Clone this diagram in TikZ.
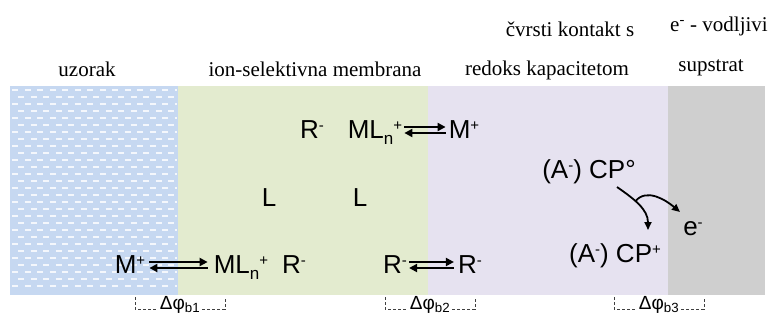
\documentclass[tikz,border=0pt]{standalone}
\usepackage{fontspec}
\setmainfont{Liberation Serif}
\setsansfont{Liberation Sans}
\usepackage{xcolor}
\usetikzlibrary{positioning,arrows.meta,calc}

\definecolor{sample}{RGB}{198,216,241}
\definecolor{membrane}{RGB}{227,235,207}
\definecolor{contact}{RGB}{230,226,240}
\definecolor{substrate}{RGB}{207,207,207}

\newcommand{\chup}[1]{\raisebox{8pt}{\fontsize{15}{15}\selectfont #1}}
\newcommand{\chdown}[1]{\raisebox{-6pt}{\fontsize{17}{17}\selectfont #1}}

\begin{document}
\begin{tikzpicture}[
  x=1pt, y=1pt,
  head/.style={anchor=base, inner sep=0pt, font=\fontsize{21}{24}\selectfont\rmfamily},
  species/.style={anchor=base, inner sep=0pt, font=\fontsize{26}{30}\selectfont\sffamily},
  eq/.style={-{Triangle[length=8pt,width=8pt]}, line width=2pt},
  flow/.style={-{Triangle[length=8pt,width=7pt]}, line width=1.8pt},
  potential/.style={anchor=base, inner sep=2pt, font=\fontsize{19}{22}\selectfont\sffamily},
  bracket/.style={densely dashed, line width=0.9pt, black!75}
]
  \useasboundingbox (0,0) rectangle (773,-321);

  \fill[sample]    (10,-86)  rectangle (178,-295);
  \fill[membrane]  (178,-86) rectangle (428,-295);
  \fill[contact]   (428,-86) rectangle (668,-295);
  \fill[substrate] (668,-86) rectangle (765,-295);
  \foreach \r in {0,...,28} {
    \pgfmathsetmacro\yy{-90-7*\r}
    \pgfmathsetmacro\xx{mod(\r,2)==0 ? 12 : 18}
    \draw[white!80!sample, line width=1.4pt, dash pattern=on 6pt off 6.5pt] (\xx,\yy) -- (177,\yy);
  }

  \node[head] (sam) at (87,-77)  {uzorak};
  \node[head] (mem) at (315,-77) {ion-selektivna membrana};
  \node[head] (cks) at (570,-37) {čvrsti kontakt s};
  \node[head] (rkk) at (547,-75) {redoks kapacitetom};
  \node[head] (evd) at (719,-32) {e\textsuperscript{-} - vodljivi};
  \node[head] (sup) at (711,-71) {supstrat};

  \node[species] (rt)  at (312,-138) {R\chup{-}};
  \node[species] (mlt) at (375,-138) {ML\chdown{n}\chup{+}};
  \node[species] (mt)  at (464,-138) {M\chup{+}};
  \node[species] (l1)  at (269,-206) {L};
  \node[species] (l2)  at (360,-206) {L};
  \node[species] (mb)  at (130,-273) {M\chup{+}};
  \node[species] (mlb) at (241,-273) {ML\chdown{n}\chup{+}};
  \node[species] (rb1) at (294,-273) {R\chup{-}};
  \node[species] (rb2) at (395,-273) {R\chup{-}};
  \node[species] (rb3) at (470,-273) {R\chup{-}};
  \node[species] (cpo) at (589,-178) {(A\chup{-}) CP°};
  \node[species] (cpp) at (615,-262) {(A\chup{-}) CP\chup{+}};
  \node[species] (el)  at (693,-235) {e\chup{-}};

  \draw[eq] ($(mlt.base east)+(2,11)$) -- ($(mt.base west)+(-3,11)$);
  \draw[eq] ($(mt.base west)+(-3,5)$) -- ($(mlt.base east)+(2,5)$);
  \draw[eq] ($(mb.base east)+(4,11)$) -- ($(mlb.base west)+(-6,11)$);
  \draw[eq] ($(mlb.base west)+(-6,5)$) -- ($(mb.base east)+(4,5)$);
  \draw[eq] ($(rb2.base east)+(2,11)$) -- ($(rb3.base west)+(-4,11)$);
  \draw[eq] ($(rb3.base west)+(-4,5)$) -- ($(rb2.base east)+(2,5)$);

  \draw[flow] ([shift={(28,-9)}]cpo.base) to[out=-35,in=90] coordinate[pos=0.4] (fork) ([shift={(33,32)}]cpp.base);
  \draw[flow] (fork) to[out=50,in=140] ([shift={(-13,23)}]el.base);

  \node[potential] (dp1) at (180,-309) {Δφ\textsubscript{b1}};
  \node[potential] (dp2) at (430,-309) {Δφ\textsubscript{b2}};
  \node[potential] (dp3) at (659,-309) {Δφ\textsubscript{b3}};
  \foreach \d in {dp1,dp2,dp3} {
    \draw[bracket] ($(\d.base)+(-45,12)$) |- (\d.base west);
    \draw[bracket] (\d.base east) -| ($(\d.base)+(45,12)$);
  }
\end{tikzpicture}
\end{document}
